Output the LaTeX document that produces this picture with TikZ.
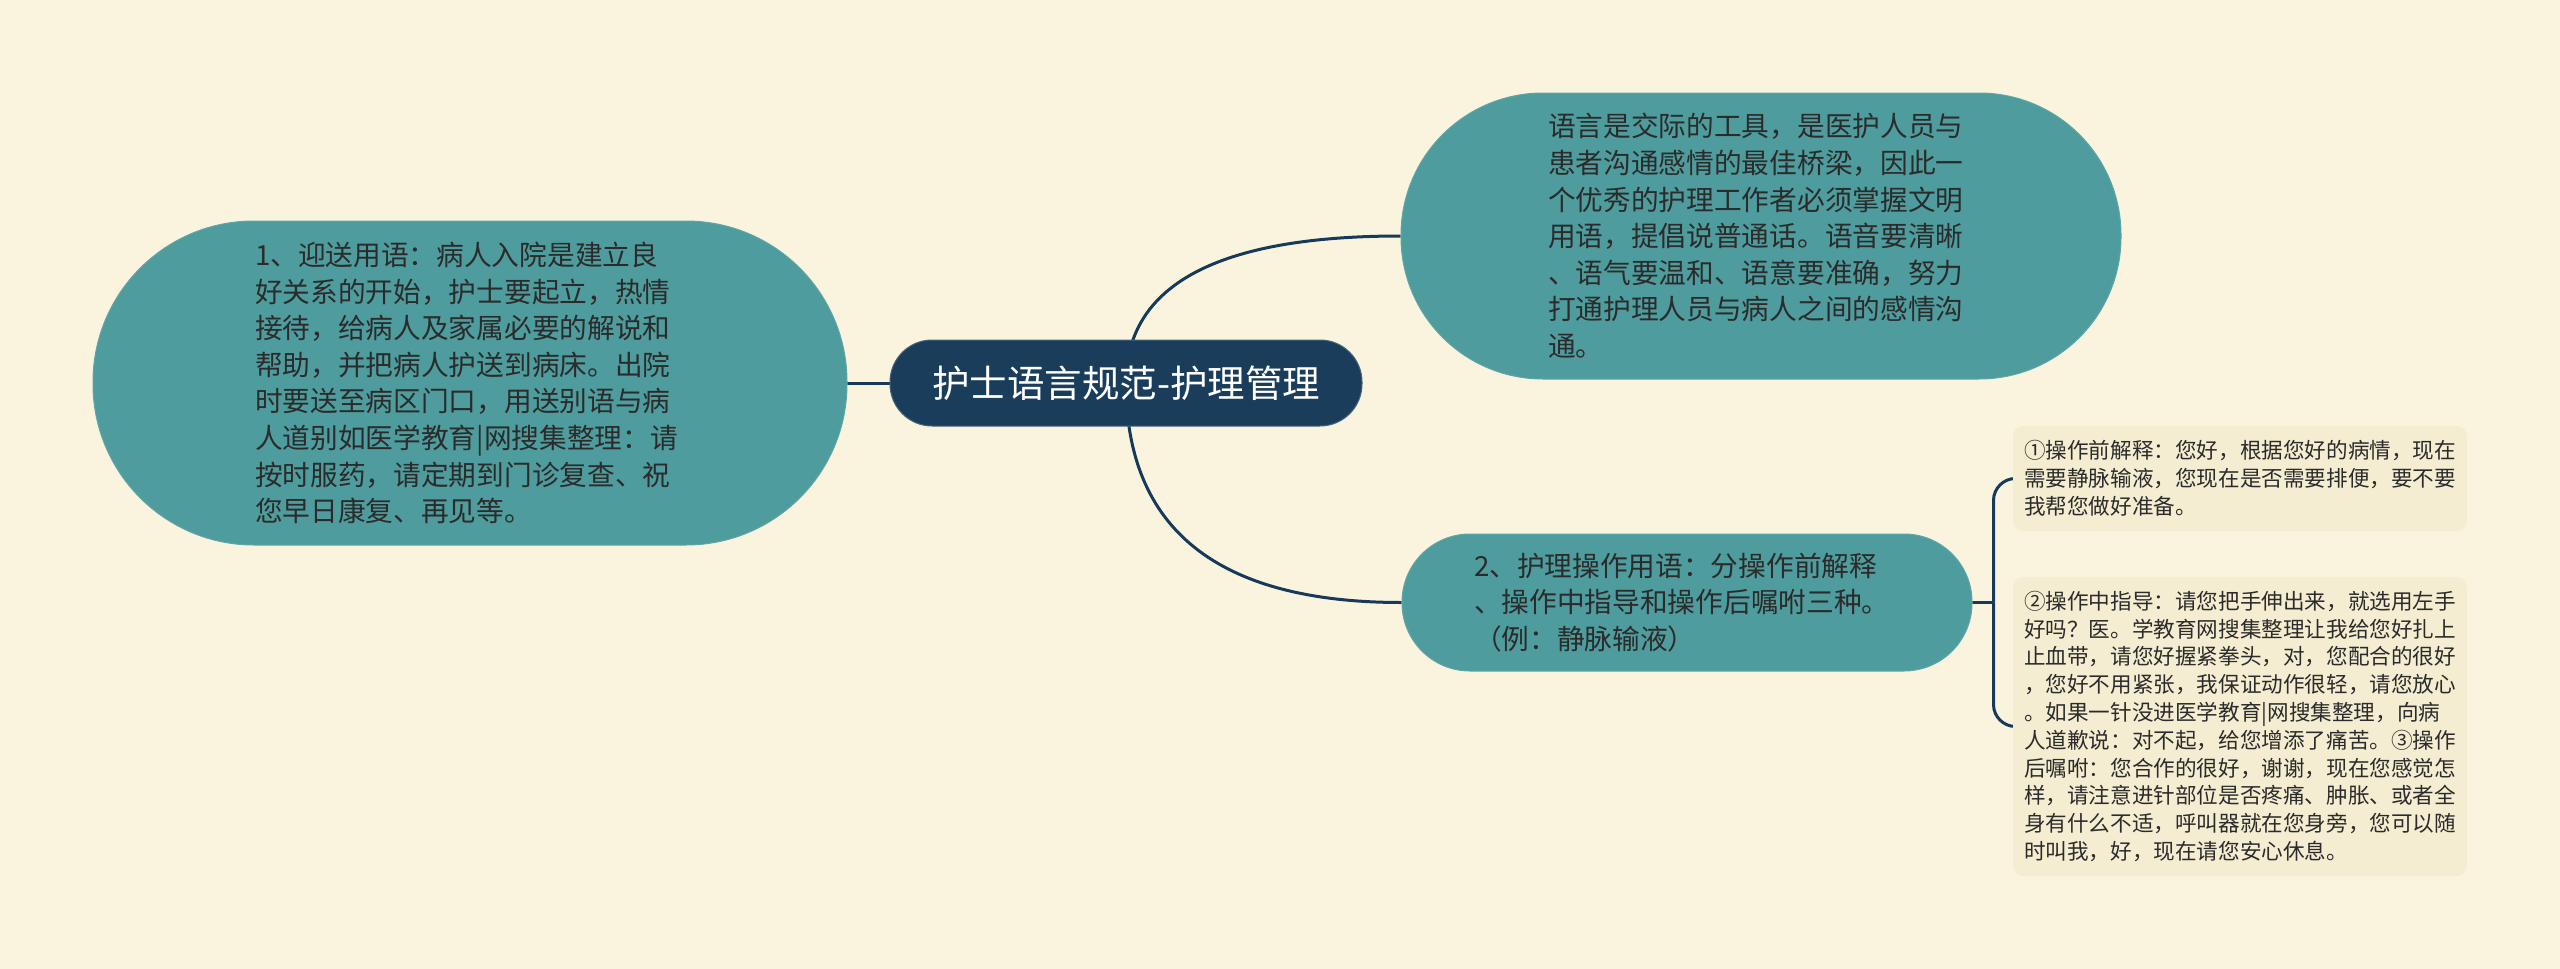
\documentclass[tikz,border=0pt]{standalone}
\usepackage{fontspec}
\setmainfont{Noto Sans CJK SC}
\usetikzlibrary{calc}
\definecolor{bgc}{HTML}{FAF4DF}
\definecolor{tealc}{HTML}{4E9C9D}
\definecolor{navy}{HTML}{1A3D5C}
\definecolor{linec}{HTML}{173A5A}
\definecolor{leafc}{HTML}{F5EDD1}
\definecolor{txt}{HTML}{2B2B2B}
\pgfdeclarelayer{bglayer}
\pgfdeclarelayer{edges}
\pgfsetlayers{bglayer,edges,main}
\tikzset{
  conn/.style={draw=linec, line width=3pt},
  rootbox/.style={fill=navy, draw=navy!80!white, line width=1pt, text=white, inner sep=0pt,
    font=\fontsize{37.5pt}{45pt}\selectfont},
  pillbox/.style={fill=tealc, draw=tealc!90!white, line width=1pt, text=txt, inner sep=0pt, align=left,
    font=\fontsize{27.7pt}{36.6pt}\selectfont},
  leafbox/.style={fill=leafc, draw=none, rounded corners=10pt, text=txt, inner sep=0pt, align=left,
    text width=432pt, minimum width=454pt,
    font=\fontsize{21.6pt}{27.8pt}\selectfont},
}
\begin{document}
\begin{tikzpicture}[x=1pt,y=-1pt]
\begin{pgfonlayer}{bglayer}
\fill[bgc] (0,0) rectangle (2560,969);
\end{pgfonlayer}
\useasboundingbox (0,0) rectangle (2560,969);

\node[rootbox, minimum width=472pt, minimum height=86pt, rounded corners=42pt] (C) at (1126,383) {护士语言规范-护理管理};

\node[pillbox, minimum width=754pt, minimum height=324pt, rounded corners=161pt, text width=430pt] (L) at (470,383)
{1、迎送用语：病人入院是建立良\\好关系的开始，护士要起立，热情\\接待，给病人及家属必要的解说和\\帮助，并把病人护送到病床。出院\\时要送至病区门口，用送别语与病\\人道别如医学教育|网搜集整理：请\\按时服药，请定期到门诊复查、祝\\您早日康复、再见等。};

\node[pillbox, minimum width=720pt, minimum height=286pt, rounded corners=142pt, text width=426pt] (T) at (1761,236)
{语言是交际的工具，是医护人员与\\患者沟通感情的最佳桥梁，因此一\\个优秀的护理工作者必须掌握文明\\用语，提倡说普通话。语音要清晰\\、语气要温和、语意要准确，努力\\打通护理人员与病人之间的感情沟\\通。};

\node[pillbox, minimum width=570pt, minimum height=137pt, rounded corners=68pt, text width=426pt] (N) at (1687,602.5)
{2、护理操作用语：分操作前解释\\、操作中指导和操作后嘱咐三种。\\（例：静脉输液）};

\node[leafbox, minimum height=105pt] (A) at (2240,478.5)
{①操作前解释：您好，根据您好的病情，现在\\需要静脉输液，您现在是否需要排便，要不要\\我帮您做好准备。};

\node[leafbox, minimum height=299pt] (B) at (2240,726.5)
{②操作中指导：请您把手伸出来，就选用左手\\好吗？医。学教育网搜集整理让我给您好扎上\\止血带，请您好握紧拳头，对，您配合的很好\\，您好不用紧张，我保证动作很轻，请您放心\\。如果一针没进医学教育|网搜集整理，向病\\人道歉说：对不起，给您增添了痛苦。③操作\\后嘱咐：您合作的很好，谢谢，现在您感觉怎\\样，请注意进针部位是否疼痛、肿胀、或者全\\身有什么不适，呼叫器就在您身旁，您可以随\\时叫我，好，现在请您安心休息。};

\coordinate (cT) at (C.center|-T.west);
\coordinate (cN) at (C.center|-N.west);
\coordinate (J) at ($(N.east)+(21,0)$);

\begin{pgfonlayer}{edges}
\draw[conn] (C.center) -- (L.center);
\draw[conn] (C.center) .. controls ($(C.center)!0.667!(cT)$) and ($(T.west)!0.667!(cT)$) .. (T.west);
\draw[conn] (C.center) .. controls ($(C.center)!0.667!(cN)$) and ($(N.west)!0.667!(cN)$) .. (N.west);
\draw[conn] (N.center) -- (J);
\draw[conn, rounded corners=22pt] (J) -- (J|-A.west) -- (A.west);
\draw[conn, rounded corners=22pt] (J) -- (J|-B.west) -- (B.west);
\end{pgfonlayer}
\end{tikzpicture}
\end{document}
